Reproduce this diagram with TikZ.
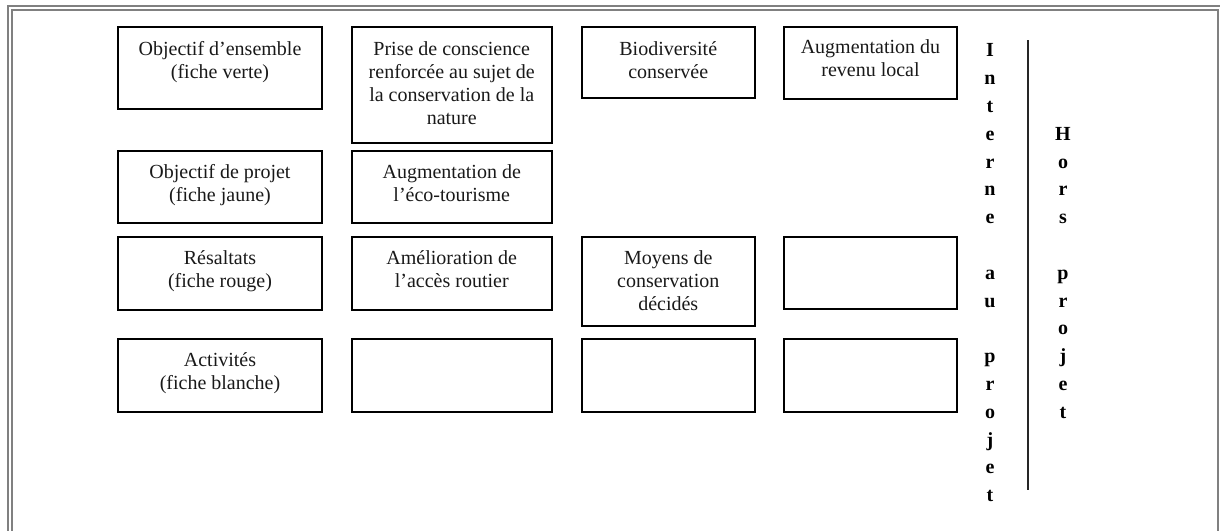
\documentclass[tikz,border=0pt]{standalone}
\usepackage{fontspec}
\setmainfont{Liberation Serif}
\newcommand\myTopStrut{\rule{0pt}{16pt}}
\definecolor{framegray}{HTML}{808080}
\tikzset{
  cardbox/.style={draw=black, line width=2pt, inner sep=0pt, outer sep=0pt, anchor=north west},
  cardtxt/.style={anchor=north, inner sep=0pt, align=center, font=\fontsize{20}{23}\selectfont, text=black!90},
  vlet/.style={anchor=north, inner sep=0pt, align=center, font=\fontsize{20}{27.8}\selectfont\bfseries},
  frame/.style={draw=framegray, line width=2pt},
}
\newcommand\mybox[5]{\node[cardbox, minimum width=#4pt-#2pt, minimum height=#5pt-#3pt] (#1) at (#2,#3) {};}
\begin{document}
\begin{tikzpicture}[x=1pt,y=-1pt]
\useasboundingbox (0,0) rectangle (1220,530);
% frame
\draw[frame] (1222,5.5) -- (7.5,5.5) -- (7.5,532);
\draw[frame] (11.5,532) -- (11.5,9.5) -- (1217.5,9.5) -- (1217.5,532);
% boxes
\mybox{A1}{118}{27}{322}{109}
\mybox{B1}{351.5}{27}{552}{143}
\mybox{C1}{581.5}{27}{755}{98}
\mybox{D1}{784}{27}{957}{99}
\mybox{A2}{118}{151}{322}{223}
\mybox{B2}{351.5}{151}{552}{223}
\mybox{A3}{118}{237}{322}{310}
\mybox{B3}{351.5}{237}{552}{310}
\mybox{C3}{581.5}{237}{755}{326}
\mybox{D3}{784}{237}{957}{309}
\mybox{A4}{118}{339}{322}{412}
\mybox{B4}{351.5}{339}{552}{412}
\mybox{C4}{581.5}{339}{755}{412}
\mybox{D4}{784}{339}{957}{412}
% texts
\node[cardtxt] (tA1) at ([yshift=-12pt]A1.north) {\myTopStrut Objectif d’ensemble\\(fiche verte)};
\node[cardtxt] (tB1) at ([yshift=-12pt]B1.north) {\myTopStrut Prise de conscience\\renforcée au sujet de\\la conservation de la\\nature};
\node[cardtxt] (tC1) at ([yshift=-12pt]C1.north) {\myTopStrut Biodiversité\\conservée};
\node[cardtxt] (tD1) at ([yshift=-10pt]D1.north) {\myTopStrut Augmentation du\\revenu local};
\node[cardtxt] (tA2) at ([yshift=-11pt]A2.north) {\myTopStrut Objectif de projet\\(fiche jaune)};
\node[cardtxt] (tB2) at ([yshift=-11pt]B2.north) {\myTopStrut Augmentation de\\l’éco-tourisme};
\node[cardtxt] (tA3) at ([yshift=-11pt]A3.north) {\myTopStrut Résaltats\\(fiche rouge)};
\node[cardtxt] (tB3) at ([yshift=-11pt]B3.north) {\myTopStrut Amélioration de\\l’accès routier};
\node[cardtxt] (tC3) at ([yshift=-11pt]C3.north) {\myTopStrut Moyens de\\conservation\\décidés};
\node[cardtxt] (tA4) at ([yshift=-11pt]A4.north) {\myTopStrut Activités\\(fiche blanche)};
% vertical labels
\node[vlet] (interne) at (990,40.7) {\myTopStrut I\\n\\t\\e\\r\\n\\e\\~\\a\\u\\~\\p\\r\\o\\j\\e\\t};
\node[vlet] (hors) at (1063,40.7+83.4) {\myTopStrut H\\o\\r\\s\\~\\p\\r\\o\\j\\e\\t};
\draw[line width=1.8pt, black!85] (1028,40) -- (1028,490);
\end{tikzpicture}
\end{document}
